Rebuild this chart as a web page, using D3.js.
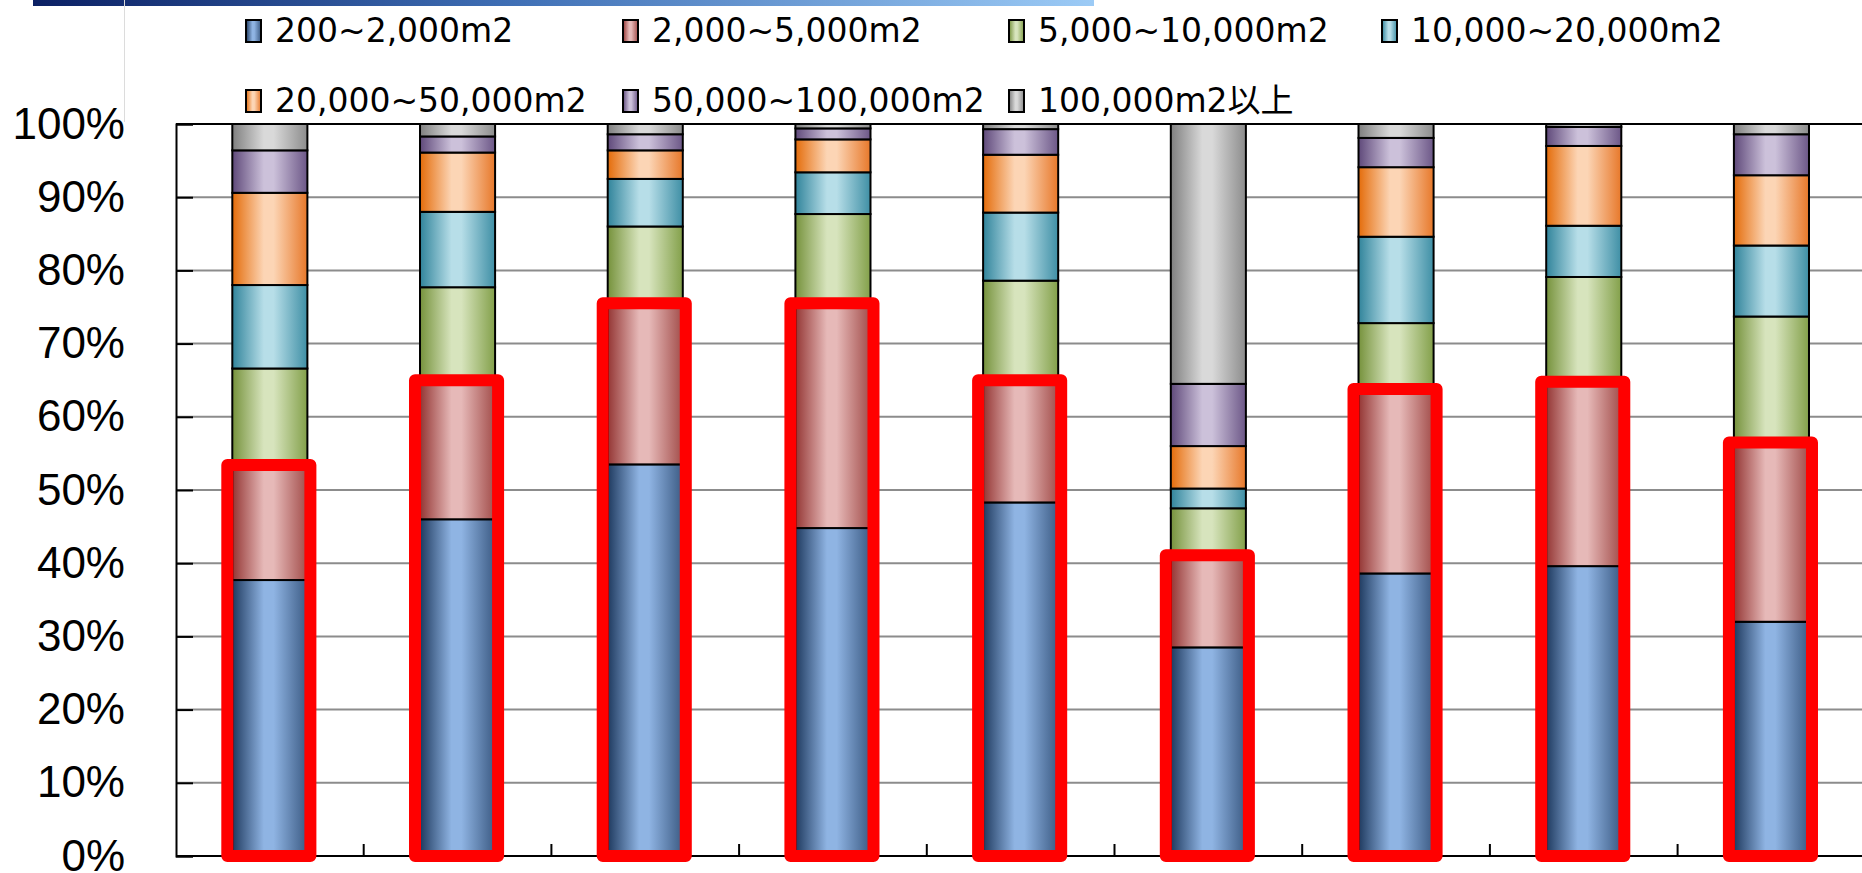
<!DOCTYPE html>
<html>
<head>
<meta charset="utf-8">
<script src="https://cdn.jsdelivr.net/npm/d3@7/dist/d3.min.js"></script>
<style>
  html, body { margin: 0; padding: 0; background: #ffffff; }
  svg { display: block; }
</style>
</head>
<body>
<script>
// Share of sites by floor-area bracket, 100% stacked per category
const categories = ["A", "B", "C", "D", "E", "F", "G", "H", "I"];
const seriesNames = [
  "200~2,000m2", "2,000~5,000m2", "5,000~10,000m2", "10,000~20,000m2",
  "20,000~50,000m2", "50,000~100,000m2", "100,000m2以上"
];
const area200to2000      = [37.7, 46.0, 53.5, 44.8, 48.3, 28.5, 38.6, 39.6, 32.0];
const area2000to5000     = [15.7, 19.0, 22.0, 30.7, 16.7, 12.6, 25.2, 25.2, 24.5];
const area5000to10000    = [13.2, 12.7, 10.5, 12.2, 13.6,  6.4,  9.0, 14.3, 17.2];
const area10000to20000   = [11.4, 10.3,  6.5,  5.7,  9.3,  2.7, 11.8,  7.0,  9.7];
const area20000to50000   = [12.6,  8.1,  3.9,  4.5,  7.9,  5.8,  9.5, 10.9,  9.6];
const area50000to100000  = [ 5.8,  2.2,  2.2,  1.5,  3.5,  8.5,  4.0,  2.6,  5.6];
const area100000plus     = [ 3.6,  1.7,  1.4,  0.6,  0.7, 35.5,  1.9,  0.4,  1.4];
const yTickValues = [0, 10, 20, 30, 40, 50, 60, 70, 80, 90, 100];
const yTickLabels = ["0%", "10%", "20%", "30%", "40%", "50%", "60%", "70%", "80%", "90%", "100%"];
// number of bottom series enclosed by the red frame
const framedSeriesCount = 2;

const seriesValues = [area200to2000, area2000to5000, area5000to10000, area10000to20000,
                      area20000to50000, area50000to100000, area100000plus];

// light centre / dark edge colours for the cylinder-like shading
const shades = [
  { light: "#8fb4e3", dark: "#1f3a5f", right: "#3c5b84" },
  { light: "#e6b9b8", dark: "#943634", right: "#a24d4a" },
  { light: "#d7e4bd", dark: "#76923c", right: "#83a04a" },
  { light: "#b7dee8", dark: "#31849b", right: "#3f8fa5" },
  { light: "#fcd5b5", dark: "#e46c0a", right: "#e7782a" },
  { light: "#ccc1da", dark: "#5f497a", right: "#6c5787" },
  { light: "#d9d9d9", dark: "#7f7f7f", right: "#8c8c8c" }
];

const W = 1862, H = 873;
const plot = { left: 176, top: 124, bottom: 856, right: 176 + 9 * 187.7 };

const svg = d3.select("body").append("svg")
  .attr("width", W).attr("height", H)
  .attr("viewBox", `0 0 ${W} ${H}`);

const defs = svg.append("defs");
shades.forEach((s, i) => {
  const g = defs.append("linearGradient")
    .attr("id", "grad" + i)
    .attr("x1", "0").attr("y1", "0").attr("x2", "1").attr("y2", "0");
  g.append("stop").attr("offset", "0").attr("stop-color", s.dark);
  g.append("stop").attr("offset", "0.42").attr("stop-color", s.light);
  g.append("stop").attr("offset", "0.55").attr("stop-color", s.light);
  g.append("stop").attr("offset", "1").attr("stop-color", s.right);
});
const header = defs.append("linearGradient")
  .attr("id", "headerGrad")
  .attr("x1", "0").attr("y1", "0").attr("x2", "1").attr("y2", "0");
header.append("stop").attr("offset", "0").attr("stop-color", "#0b2064");
header.append("stop").attr("offset", "0.45").attr("stop-color", "#3f6fb5");
header.append("stop").attr("offset", "1").attr("stop-color", "#9ccbf6");

// slide header strip and divider
svg.append("rect").attr("x", 33).attr("y", 0).attr("width", 1061).attr("height", 6)
  .attr("fill", "url(#headerGrad)");
svg.append("line").attr("x1", 124.5).attr("x2", 124.5).attr("y1", 0).attr("y2", 122)
  .attr("stroke", "#dcdcdc").attr("stroke-width", 1);

// scales
const x = d3.scaleBand().domain(categories)
  .range([plot.left, plot.right]).paddingInner(0.6).paddingOuter(0.3);
const y = d3.scaleLinear().domain([0, 100]).range([plot.bottom, plot.top]);

// gridlines
svg.append("g").selectAll("line")
  .data(yTickValues.filter(v => v > 0 && v < 100))
  .join("line")
  .attr("x1", plot.left).attr("x2", plot.right)
  .attr("y1", d => y(d)).attr("y2", d => y(d))
  .attr("stroke", "#8c8c8c").attr("stroke-width", 2);

// stacked bars
const table = categories.map((c, i) => {
  const row = { category: c };
  seriesNames.forEach((s, k) => { row[s] = seriesValues[k][i]; });
  return row;
});
const stacked = d3.stack().keys(seriesNames)(table);

svg.append("g").selectAll("g")
  .data(stacked)
  .join("g")
  .attr("fill", (d, i) => `url(#grad${i})`)
  .selectAll("rect")
  .data(d => d)
  .join("rect")
  .attr("x", d => x(d.data.category))
  .attr("width", x.bandwidth())
  .attr("y", d => y(d[1]))
  .attr("height", d => y(d[0]) - y(d[1]))
  .attr("stroke", "#000").attr("stroke-width", 2);

// axes
const yAxis = d3.axisLeft(y).tickValues(yTickValues)
  .tickFormat((d, i) => yTickLabels[i]).tickSize(-17).tickPadding(51);
const gy = svg.append("g").attr("transform", `translate(${plot.left},0)`).call(yAxis);
gy.select(".domain").attr("stroke", "#000").attr("stroke-width", 2);
gy.selectAll(".tick line").attr("stroke", "#000").attr("stroke-width", 2);
gy.selectAll(".tick text")
  .attr("font-family", "'Liberation Sans', Arial, sans-serif")
  .attr("font-size", 44).attr("fill", "#000");

const boundaries = categories.map(c => x(c) - x.step() * x.paddingOuter());
svg.append("g").selectAll("line")
  .data(boundaries.slice(1))
  .join("line")
  .attr("x1", d => d).attr("x2", d => d)
  .attr("y1", plot.bottom).attr("y2", plot.bottom - 12)
  .attr("stroke", "#000").attr("stroke-width", 2);
svg.append("line").attr("x1", plot.left).attr("x2", plot.right)
  .attr("y1", plot.bottom).attr("y2", plot.bottom)
  .attr("stroke", "#000").attr("stroke-width", 2);
svg.append("line").attr("x1", plot.left).attr("x2", plot.right)
  .attr("y1", plot.top).attr("y2", plot.top)
  .attr("stroke", "#000").attr("stroke-width", 2);

// red frames around the smaller brackets
const framed = stacked[framedSeriesCount - 1];
svg.append("g").selectAll("rect")
  .data(framed)
  .join("rect")
  .attr("x", d => x(d.data.category) - 5)
  .attr("width", x.bandwidth() + 8)
  .attr("y", d => y(d[1]))
  .attr("height", d => y(0) - y(d[1]))
  .attr("fill", "none")
  .attr("stroke", "#ff0000").attr("stroke-width", 12)
  .attr("stroke-linejoin", "round");

// legend
const legendTextX = [275, 652, 1038, 1411];
const legendBaseline = [42, 112];
const legend = svg.append("g").selectAll("g")
  .data(seriesNames)
  .join("g")
  .attr("transform", (d, i) => `translate(${legendTextX[i % 4]},${legendBaseline[Math.floor(i / 4)]})`);
legend.append("rect")
  .attr("x", -29).attr("y", -22).attr("width", 15).attr("height", 22)
  .attr("fill", (d, i) => `url(#grad${i})`)
  .attr("stroke", "#000").attr("stroke-width", 2);
legend.append("text")
  .attr("x", 0).attr("y", 0)
  .attr("font-family", "'DejaVu Sans', 'Noto Sans CJK JP', sans-serif")
  .attr("font-size", 33).attr("fill", "#000")
  .text(d => d);
</script>
</body>
</html>
